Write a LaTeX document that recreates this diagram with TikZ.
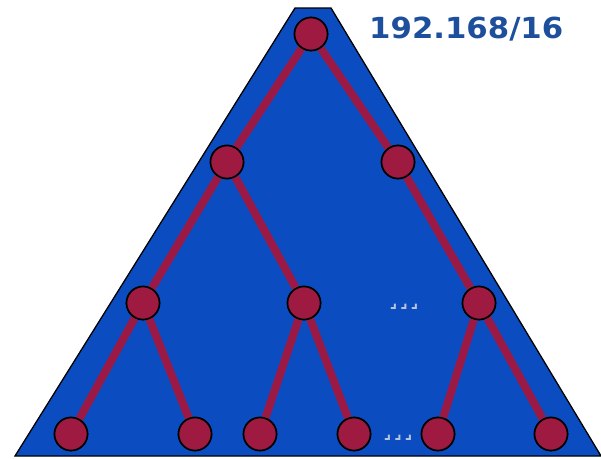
\documentclass[tikz,border=0pt]{standalone}
\usepackage{fontspec}
\newfontfamily\labelfont{DejaVu Sans}
\definecolor{triblue}{HTML}{0B4DC0}
\definecolor{edgered}{HTML}{9A1A45}
\definecolor{nodered}{HTML}{9E1A40}
\definecolor{txtblue}{HTML}{1D4F9C}
\definecolor{dotgray}{HTML}{B8C4DC}
\begin{document}
\begin{tikzpicture}[x=1pt,y=-1pt,
  treenode/.style={circle,draw=black,line width=1.6pt,fill=nodered,minimum size=33pt,inner sep=0pt},
  treeedge/.style={draw=edgered,line width=8pt},
  dots/.style={text=dotgray,font=\labelfont\bfseries\fontsize{16}{16}\selectfont,inner sep=0pt}]
\useasboundingbox (0,0) rectangle (601,458);
\path[fill=triblue,draw=black,line width=1.3pt] (295,8) -- (331,8) -- (601,456) -- (15,456) -- cycle;
\node[treenode] (r) at (311,34) {};
\node[treenode] (a) at (227,162) {};
\node[treenode] (b) at (398,162) {};
\node[treenode] (c) at (143,303) {};
\node[treenode] (d) at (304,303) {};
\node[treenode] (e) at (479,303) {};
\node[treenode] (f) at (71,434) {};
\node[treenode] (g) at (195,434) {};
\node[treenode] (h) at (260,434) {};
\node[treenode] (i) at (354,434) {};
\node[treenode] (j) at (438,434) {};
\node[treenode] (k) at (551,434) {};
\path[treeedge] (r) -- (a) (r) -- (b) (a) -- (c) (a) -- (d) (b) -- (e)
  (c) -- (f) (c) -- (g) (d) -- (h) (d) -- (i) (e) -- (j) (e) -- (k);
\foreach \n in {r,a,b,c,d,e,f,g,h,i,j,k} {\node[treenode] at (\n) {};}
\node[dots] (dt1) at (404,307) {⌟\hspace{3pt}⌟\hspace{3pt}⌟};
\node[dots] (dt2) at (398,438) {⌟\hspace{3pt}⌟\hspace{3pt}⌟};
\node[font=\labelfont\bfseries\fontsize{29}{29}\selectfont,text=txtblue,inner sep=0pt,anchor=west,xscale=1.06] (lbl) at (369,29) {192.168/16};
\end{tikzpicture}
\end{document}
